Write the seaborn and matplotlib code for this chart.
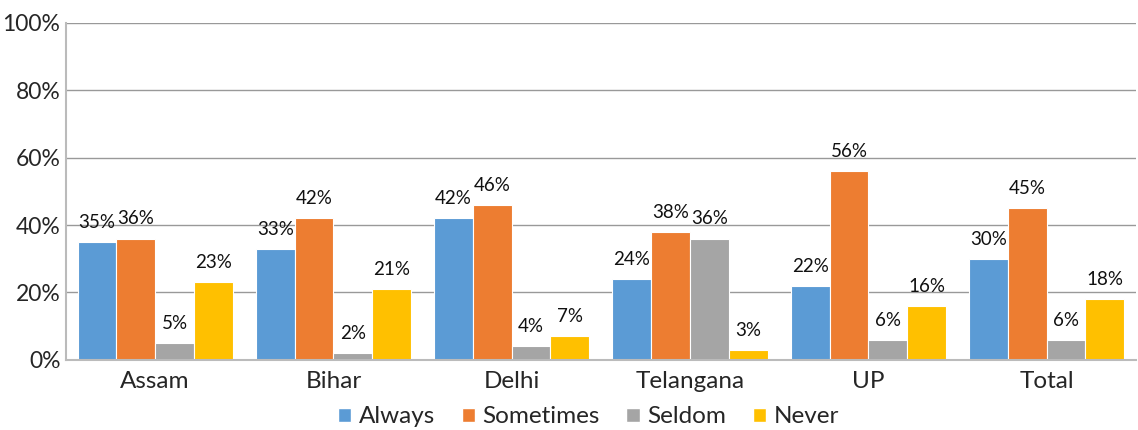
import pandas as pd
import matplotlib.pyplot as plt
import seaborn as sns
from matplotlib.ticker import PercentFormatter
from matplotlib.patches import Patch

states = ["Assam", "Bihar", "Delhi", "Telangana", "UP", "Total"]
series = ["Always", "Sometimes", "Seldom", "Never"]
always = [35, 33, 42, 24, 22, 30]
sometimes = [36, 42, 46, 38, 56, 45]
seldom = [5, 2, 4, 36, 6, 6]
never = [23, 21, 7, 3, 16, 18]
colors = ["#5B9BD5", "#ED7D31", "#A5A5A5", "#FFC000"]

df = pd.DataFrame({"state": states * 4,
                   "answer": sum([[s] * 6 for s in series], []),
                   "value": always + sometimes + seldom + never})

sns.set_style("white")
plt.rcParams['font.family'] = ['Lato', 'DejaVu Sans']

fig = plt.figure(figsize=(11.38, 4.30), dpi=100)
ax = fig.add_axes([0.058, 0.163, 0.94, 0.784])

sns.barplot(data=df, x="state", y="value", hue="answer", hue_order=series,
            palette=colors, width=0.87, edgecolor="white", linewidth=0.8,
            saturation=1, ax=ax, legend=False)

for c in ax.containers:
    ax.bar_label(c, labels=[f"{v:.0f}%" for v in c.datavalues],
                 padding=8, fontsize=13.5, color="#111111")

ax.set_ylim(0, 100)
ax.set_yticks(range(0, 101, 20))
ax.yaxis.set_major_formatter(PercentFormatter(decimals=0))
ax.set_xlim(-0.5, 5.5)
ax.grid(axis="y", color="#999999", linewidth=1)
ax.set_axisbelow(True)
for s in ["top", "right"]:
    ax.spines[s].set_visible(False)
for s in ["left", "bottom"]:
    ax.spines[s].set_color("#BBBBBB")
    ax.spines[s].set_linewidth(1.5)
ax.tick_params(axis="y", labelsize=16.5, length=5, color="#BBBBBB", pad=-1)
ax.tick_params(axis="x", labelsize=17.5, length=0, pad=8)
ax.set_xlabel("")
ax.set_ylabel("")

handles = [Patch(facecolor=c, label=s) for c, s in zip(colors, series)]
fig.legend(handles=handles, loc="lower center", ncol=4, frameon=False,
           fontsize=17.5, handlelength=0.55, handleheight=0.55, handletextpad=0.3,
           columnspacing=1.1, bbox_to_anchor=(0.517, -0.045))

fig.savefig("out.png", dpi=100)
